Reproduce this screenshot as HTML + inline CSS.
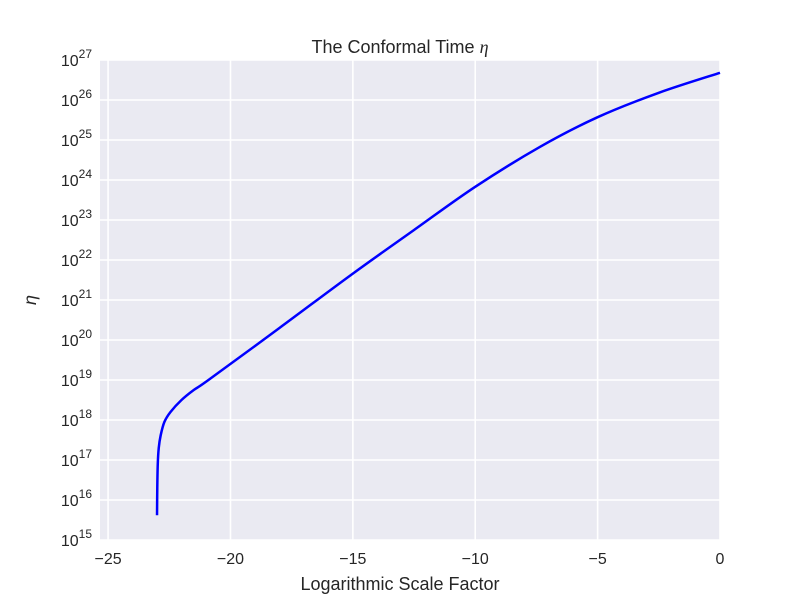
<!DOCTYPE html>
<html><head><meta charset="utf-8"><style>
body{margin:0;background:#fff;}
svg text{font-family:"Liberation Sans",sans-serif;fill:#262626;}
</style></head><body>
<svg id="chart" width="800" height="600">
<rect x="100" y="60" width="620" height="480" fill="#eaeaf2"/>
<g id="grid"></g>
<g id="ticks"></g>
<path id="line" fill="none" stroke="#0000ff" stroke-width="2.5" stroke-linejoin="round"/>
<text x="400" y="53" text-anchor="middle" font-size="18">The Conformal Time <tspan font-family="Liberation Serif" font-style="italic">η</tspan></text>
<text x="400" y="590" text-anchor="middle" font-size="18">Logarithmic Scale Factor</text>
<text x="36" y="300" text-anchor="middle" font-size="18" font-family="Liberation Serif" font-style="italic" transform="rotate(-90 36 300)">η</text>
</svg>
<script>
const xTicks=[-25,-20,-15,-10,-5,0];
const yTickExps=[15,16,17,18,19,20,21,22,23,24,25,26,27];
const xData=[-23.0,-22.99,-22.97,-22.93,-22.85,-22.7,-22.45,-22.0,-21.5,-20.9,-18,-15,-12.5,-10,-7.35,-5,-2.5,0];
const logEta=[15.62,16.3,16.9,17.3,17.62,17.95,18.2,18.5,18.75,19.0,20.3,21.66,22.75,23.83,24.83,25.57,26.18,26.68];
const xMin=-25.33,xMax=0,yMin=15,yMax=27;
const L=100,R=720,T=60,B=540;
const sx=v=>L+(v-xMin)/(xMax-xMin)*(R-L);
const sy=v=>B-(v-yMin)/(yMax-yMin)*(B-T);
const NS="http://www.w3.org/2000/svg";
const grid=document.getElementById('grid'),ticks=document.getElementById('ticks');
function mk(tag,attrs,parent){const e=document.createElementNS(NS,tag);for(const k in attrs)e.setAttribute(k,attrs[k]);parent.appendChild(e);return e;}
xTicks.forEach(v=>{
 const g=mk('line',{x1:sx(v),x2:sx(v),y1:T,y2:B,stroke:'#fff','stroke-width':1.6},grid);
 
 
 const t=mk('text',{x:sx(v),y:B+24,'text-anchor':'middle','font-size':16},ticks);
 t.textContent=(v<0?'\u2212'+(-v):String(v));
 
 
});
yTickExps.forEach(e=>{
 const g=mk('line',{x1:L,x2:R,y1:sy(e),y2:sy(e),stroke:'#fff','stroke-width':1.6},grid);
 
 
 const t=mk('text',{x:L-8,y:sy(e)+6,'text-anchor':'end','font-size':16},ticks);
 
 
 const a=mk('tspan',{},t);a.textContent='10';
 const b=mk('tspan',{dy:-8,'font-size':12},t);b.textContent=String(e);
});
const P=xData.map((x,i)=>[sx(x),sy(logEta[i])]);
let d='M'+P[0][0].toFixed(2)+','+P[0][1].toFixed(2);
for(let i=0;i<P.length-1;i++){
 const p0=P[Math.max(i-1,0)],p1=P[i],p2=P[i+1],p3=P[Math.min(i+2,P.length-1)];
 const c1=[p1[0]+(p2[0]-p0[0])/6,p1[1]+(p2[1]-p0[1])/6];
 const c2=[p2[0]-(p3[0]-p1[0])/6,p2[1]-(p3[1]-p1[1])/6];
 d+='C'+c1[0].toFixed(2)+','+c1[1].toFixed(2)+' '+c2[0].toFixed(2)+','+c2[1].toFixed(2)+' '+p2[0].toFixed(2)+','+p2[1].toFixed(2);
}
document.getElementById('line').setAttribute('d',d);
</script>
</body></html>
